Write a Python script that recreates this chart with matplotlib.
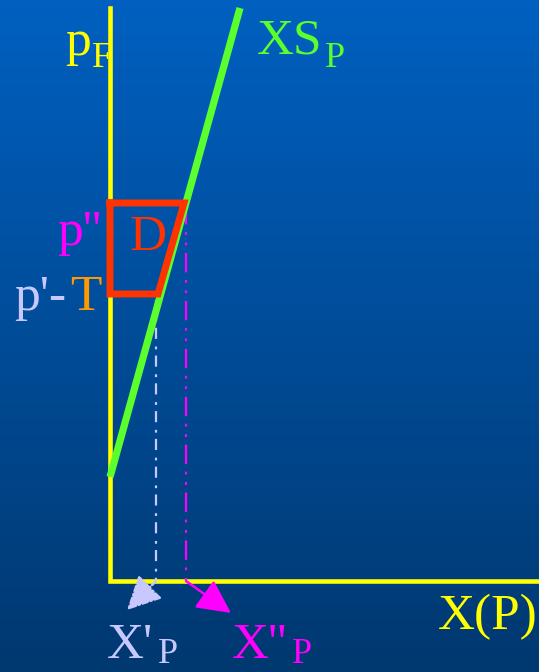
import numpy as np
import matplotlib.pyplot as plt

plt.rcParams["font.family"] = ["Liberation Serif", "DejaVu Serif"]
plt.rcParams["lines.scale_dashes"] = False

# axes frame (quantity, price)
axis_x = [0.0, 0.0, 42.9]
axis_y = [57.3, 0.0, 0.0]

# export supply XS_P
supply_x = [0.0, 13.0]
supply_y = [10.4, 57.3]

# prices and quantities
p_high = 37.8       # p''
p_low = 28.7        # p'-T
x_low = 4.6         # X'_P
x_high = 7.6        # X''_P

# area D
d_x = [0.0, 7.4, 4.8, 0.0, 0.0]
d_y = [p_high, p_high, p_low, p_low, p_high]

YELLOW = "#FFFF00"
GREEN = "#5CFF2E"
RED = "#FF3300"
MAGENTA = "#FF00FF"
LAVENDER = "#C8C8FF"
ORANGE = "#FF9900"


def main():
    fig = plt.figure(figsize=(5.39, 6.72), dpi=100)
    ax = fig.add_axes([0, 0, 1, 1])
    ax.set_xlim(-11.0, 42.9)
    ax.set_ylim(-9.1, 58.1)
    ax.axis("off")

    # slide background gradient
    grad = np.linspace(0, 1, 256).reshape(-1, 1)
    top = np.array([0, 96, 192]) / 255
    bottom = np.array([0, 56, 112]) / 255
    img = top + (bottom - top) * grad[:, :, None]
    ax.imshow(img, extent=[-11.0, 42.9, -9.1, 58.1], aspect="auto", zorder=0)

    ax.plot(axis_x, axis_y, color=YELLOW, lw=3.3, solid_joinstyle="miter", zorder=2)
    ax.plot(supply_x, supply_y, color=GREEN, lw=5.2, solid_capstyle="butt", zorder=3)
    ax.plot(d_x, d_y, color=RED, lw=5, solid_joinstyle="miter", zorder=4)

    # drop lines to the quantity axis
    ax.plot([x_low, x_low], [p_low - 0.6, 0], color=LAVENDER, lw=1.6,
            dashes=(8, 5.5, 2, 4.5), zorder=2)
    ax.plot([x_high, x_high], [p_high - 0.2, 0], color=MAGENTA, lw=1.6,
            dashes=(14, 5.5, 2, 5.5, 2, 5.5), zorder=2)

    ax.annotate("", xy=(x_low - 2.9, -2.9), xytext=(x_low, 0),
                arrowprops=dict(arrowstyle="-|>,head_length=1.3,head_width=0.65",
                                color=LAVENDER, lw=1.8, linestyle=(0, (4, 2, 1, 2)),
                                mutation_scale=16, shrinkA=0, shrinkB=0))
    ax.annotate("", xy=(x_high + 4.5, -3.2), xytext=(x_high, 0),
                arrowprops=dict(arrowstyle="-|>,head_length=1.3,head_width=0.65",
                                color=MAGENTA, lw=1.8,
                                mutation_scale=16, shrinkA=0, shrinkB=0))

    fs = 37
    sub = 26
    ax.text(-4.5, 52.6, "p", color=YELLOW, fontsize=fs, va="baseline")
    ax.text(-1.8, 51.4, "F", color=YELLOW, fontsize=sub, va="baseline")
    ax.text(14.7, 52.8, "XS", color=GREEN, fontsize=fs, va="baseline")
    ax.text(21.5, 51.4, "P", color=GREEN, fontsize=sub, va="baseline")
    ax.text(-5.3, 33.6, "p''", color=MAGENTA, fontsize=fs, va="baseline")
    ax.text(2.0, 33.1, "D", color=RED, fontsize=fs, va="baseline")
    ax.text(-9.6, 27.1, "p'-", color=LAVENDER, fontsize=fs, va="baseline")
    ax.text(-4.0, 27.1, "T", color=ORANGE, fontsize=fs, va="baseline")
    ax.text(-0.3, -7.7, "X'", color=LAVENDER, fontsize=fs, va="baseline")
    ax.text(4.8, -8.2, "P", color=LAVENDER, fontsize=sub, va="baseline")
    ax.text(12.2, -7.7, "X''", color=MAGENTA, fontsize=fs, va="baseline")
    ax.text(18.2, -8.2, "P", color=MAGENTA, fontsize=sub, va="baseline")
    ax.text(32.8, -4.8, "X(P)", color=YELLOW, fontsize=fs, va="baseline")

    fig.savefig("out.png", dpi=100)


if __name__ == "__main__":
    main()
